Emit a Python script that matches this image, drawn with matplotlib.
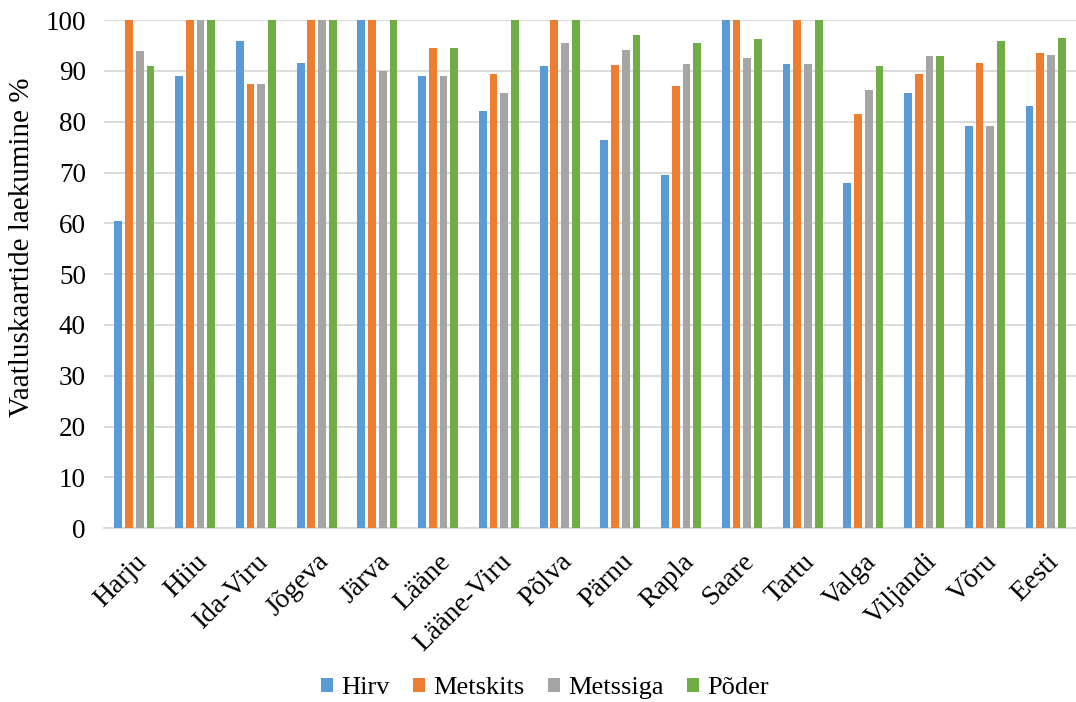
import matplotlib
matplotlib.use("Agg")
import matplotlib.pyplot as plt
import numpy as np

plt.rcParams['font.family'] = ['Liberation Serif', 'DejaVu Serif']

regions = ["Harju", "Hiiu", "Ida-Viru", "Jõgeva", "Järva", "Lääne", "Lääne-Viru",
           "Põlva", "Pärnu", "Rapla", "Saare", "Tartu", "Valga", "Viljandi", "Võru", "Eesti"]

hirv = [60.5, 88.9, 95.8, 91.5, 100, 88.9, 82.1, 90.9, 76.4, 69.5, 100, 91.3, 68.0, 85.7, 79.2, 83.1]
metskits = [100, 100, 87.4, 100, 100, 94.5, 89.3, 100, 91.1, 87.0, 100, 100, 81.6, 89.3, 91.5, 93.6]
metssiga = [93.9, 100, 87.4, 100, 90.0, 88.9, 85.7, 95.4, 94.1, 91.4, 92.6, 91.3, 86.3, 92.9, 79.2, 93.1]
poder = [91.0, 100, 100, 100, 100, 94.5, 100, 100, 97.0, 95.5, 96.2, 100, 91.0, 92.9, 95.8, 96.5]

series = [("Hirv", hirv, "#5B9BD5"),
          ("Metskits", metskits, "#ED7D31"),
          ("Metssiga", metssiga, "#A5A5A5"),
          ("Põder", poder, "#70AD47")]

fig = plt.figure(figsize=(10.76, 7.02), dpi=100)
ax = fig.add_axes([0.0967, 0.2474, 0.9033, 0.7241])

x = np.arange(len(regions))
step = 0.176
width = 0.128
for i, (name, vals, col) in enumerate(series):
    ax.bar(x + (i - 1.5) * step, vals, width, color=col, label=name, zorder=3)

ax.set_xlim(-0.5, len(regions) - 0.5)
ax.set_ylim(0, 100)
ax.set_yticks(np.arange(0, 101, 10))
ax.yaxis.grid(True, color="#D9D9D9", linewidth=1.3, zorder=0)
ax.set_axisbelow(True)
for s in ["top", "right", "left"]:
    ax.spines[s].set_visible(False)
ax.spines["bottom"].set_color("#D9D9D9")
ax.spines["bottom"].set_linewidth(1.3)
ax.tick_params(axis="both", length=0, colors="#000000")
ax.tick_params(axis="y", pad=13, labelsize=19.5)
ax.tick_params(axis="x", pad=15)
ax.set_xticks(x)
ax.set_xticklabels(regions, rotation=45, ha="right", rotation_mode="anchor", fontsize=20)

fig.text(22 / 1076, 1 - 247 / 702, "Vaatluskaartide laekumine %", rotation=90,
         ha="center", va="center", fontsize=21)

fig.legend(*ax.get_legend_handles_labels(), loc="center",
           bbox_to_anchor=(0.5065, 1 - 688 / 702), ncol=4, frameon=False,
           fontsize=19, handlelength=0.45, handleheight=0.45, handletextpad=0.3,
           columnspacing=0.9, borderpad=0)

fig.savefig("out.png", dpi=100)
